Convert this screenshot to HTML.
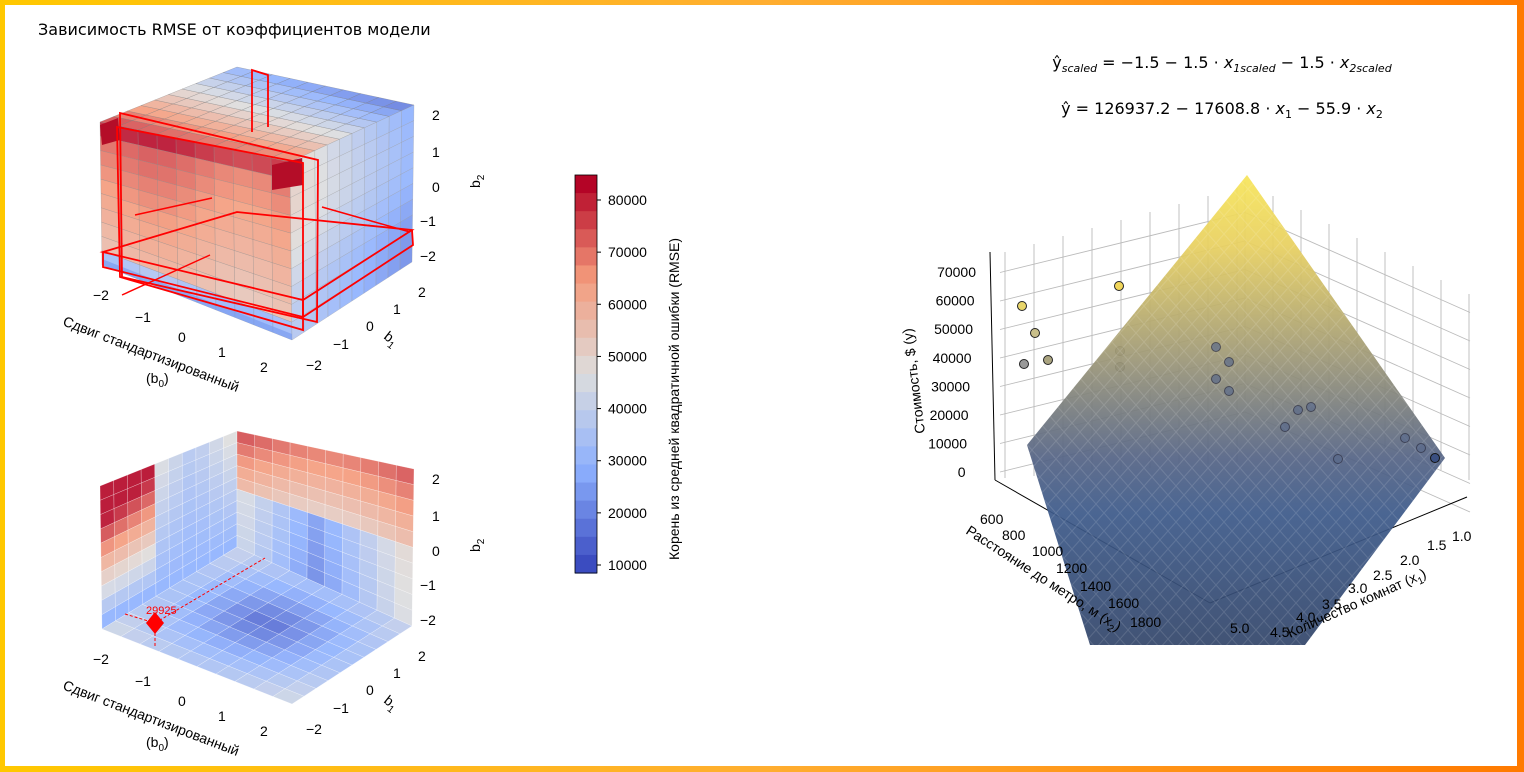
<!DOCTYPE html>
<html><head><meta charset="utf-8"><style>
html,body{margin:0;padding:0;}
body{width:1524px;height:772px;position:relative;overflow:hidden;background:linear-gradient(90deg,#ffc800,#ffae30 50%,#ff7a00);}
#in{position:absolute;left:5px;top:5px;width:1512px;height:761px;background:#fff;}
svg{position:absolute;left:0;top:0;}
text{font-family:"Liberation Sans","DejaVu Sans",sans-serif;font-size:14px;fill:#000;}
</style></head><body><div id="in"></div>
<svg id="s" width="1524" height="772" viewBox="0 0 1524 772"></svg>
<script>
const S=document.getElementById('s');let h='';
const ST=[[0,[59,76,192]],[0.25,[141,176,254]],[0.5,[221,221,221]],[0.75,[244,154,123]],[1,[180,4,38]]];
function cw(t){t=Math.max(0,Math.min(1,t));let i=0;while(i<3&&t>ST[i+1][0])i++;const[a0,a]=ST[i],[b0,b]=ST[i+1];const k=(t-a0)/(b0-a0);
return `rgb(${a.map((x,j)=>Math.round(x+(b[j]-x)*k)).join(',')})`}
function bl(P,u,v){const[a,b,c,d]=P;return[(a[0]*(1-u)+b[0]*u)*(1-v)+(d[0]*(1-u)+c[0]*u)*v,(a[1]*(1-u)+b[1]*u)*(1-v)+(d[1]*(1-u)+c[1]*u)*v]}
function face(P,f,n,op,st){for(let i=0;i<n;i++)for(let j=0;j<n;j++){const q=[bl(P,i/n,j/n),bl(P,(i+1)/n,j/n),bl(P,(i+1)/n,(j+1)/n),bl(P,i/n,(j+1)/n)];
h+=`<polygon points="${q.map(p=>p.join(',')).join(' ')}" fill="${cw(f(i/(n-1),j/(n-1)))}" fill-opacity="${op}" stroke="${st}" stroke-width="0.5" stroke-opacity="0.5"/>`}}
const TL=[100,122],TB=[237,67],TR=[414,105],TF=[290,162],BL=[102,265],BF=[292,340],BR=[412,262];
face([TL,TB,TR,TF],(u,v)=>0.78-0.6*u+0.1*(1-v)-0.05*v*u,10,0.9,'#777');
face([TL,TF,BF,BL],(u,v)=>(v<0.1?0.95:0.86-0.25*v)+(v>0.95?-0.3:0)+0.04*Math.sin(u*6),10,0.9,'#888');
face([TF,TR,BR,BF],(u,v)=>0.45-0.2*u-0.05*v+0.1*(1-u)*(1-v)+0.04*Math.sin(v*5),10,0.9,'#999');
h+=`<polygon points="100,125 118,118 120,140 102,145" fill="#b40d28"/><polygon points="272,165 302,158 303,185 272,190" fill="#b40d28"/>`;
h+=`<polygon points="102,265 292,340 292,334 102,259" fill="#7b9cf0" fill-opacity="0.7"/>`;
const R='stroke="#f00" stroke-width="1.8" fill="none"';
h+=`<polygon points="120,113 318,160 317,322 122,277" ${R}/><polygon points="117,127 303,163 303,330 120,277" ${R}/>
<polygon points="103,252 237,212 412,230 303,300" ${R}/><polyline points="103,252 103,267 303,317 413,245 412,230" ${R}/><line x1="303" y1="300" x2="303" y2="317" stroke="#f00" stroke-width="1.8"/>
<polyline points="252,132 252,70 268,75 268,127" ${R}/><line x1="122" y1="295" x2="210" y2="255" stroke="#f00" stroke-width="1.5"/><line x1="135" y1="215" x2="212" y2="198" stroke="#f00" stroke-width="1.5"/><line x1="322" y1="207" x2="410" y2="232" stroke="#f00" stroke-width="1.5"/>`;
const o=364,tl=[100,122+o],tb=[237,67+o],tr=[414,105+o],bb=[237,183+o],bl_=[102,265+o],bf=[292,340+o],br=[412,262+o];
face([tl,tb,bb,bl_],(u,v)=>{let x=Math.abs(u-0.7);return 0.25+x*0.5*(1-v)+0.5*(1-v)*(u<.35?1:0)+0.1*(1-v)},10,0.9,'#fff');
face([tb,tr,br,bb],(u,v)=>{return v<0.45?0.88-0.5*v-0.08*Math.sin(u*3):0.15+Math.abs(u-0.45)*0.6+0.1*(1-v)},10,0.9,'#fff');
face([bl_,bb,br,bf],(u,v)=>0.06+0.5*Math.hypot(u-0.55,v-0.5),10,0.9,'#fff');
h+=`<line x1="155" y1="623" x2="265" y2="558" stroke="#f00" stroke-dasharray="3,2"/><line x1="125" y1="614" x2="155" y2="623" stroke="#f00" stroke-dasharray="3,2"/><line x1="155" y1="623" x2="155" y2="648" stroke="#f00" stroke-dasharray="3,2"/>
<polygon points="155,612 164,623 155,634 146,623" fill="#f00"/><text x="146" y="614" style="font-size:11px;fill:#f00">29925</text>`;
function lab(dy){[['−2',93,300],['−1',135,322],['0',178,342],['1',218,357],['2',260,372]].forEach(a=>h+=`<text x="${a[1]}" y="${a[2]+dy}">${a[0]}</text>`);
[['2',418,297],['1',393,314],['0',366,331],['−1',333,349],['−2',306,370]].forEach(a=>h+=`<text x="${a[1]}" y="${a[2]+dy}">${a[0]}</text>`);
[['2',120],['1',157],['0',192],['−1',226],['−2',261]].forEach(a=>h+=`<text x="${a[0].length>1?420:432}" y="${a[1]+dy}">${a[0]}</text>`);
h+=`<text transform="translate(480,${188+dy}) rotate(-90)">b<tspan dy="4" style="font-size:10px">2</tspan></text>`;
h+=`<text transform="translate(383,${338+dy}) rotate(38)">b<tspan dy="4" style="font-size:10px">1</tspan></text>`;
h+=`<text transform="translate(62,${325+dy}) rotate(21)">Сдвиг стандартизированный</text><text x="146" y="${383+dy}">(b<tspan dy="4" style="font-size:10px">0</tspan><tspan dy="-4">)</tspan></text>`}
lab(0);lab(364);
for(let i=0;i<22;i++){const y=175+i*398/22;h+=`<rect x="575" y="${y}" width="22" height="${398/22+0.6}" fill="${cw(1-i/21)}"/>`}
h+=`<rect x="575" y="175" width="22" height="398" fill="none" stroke="#000" stroke-width="0.8"/>`;
for(let k=1;k<=8;k++){const y=565-(k-1)*(365/7);h+=`<line x1="597" y1="${y}" x2="601" y2="${y}" stroke="#000"/><text x="608" y="${y+5}">${k*10000}</text>`}
h+=`<text transform="translate(679,560) rotate(-90)">Корень из средней квадратичной ошибки (RMSE)</text>`;
h+=`<text x="38" y="35" style="font-family:'Comic Sans MS','DejaVu Sans',sans-serif;font-size:16px">Зависимость RMSE от коэффициентов модели</text>`;
h+=`<text x="1222" y="68" text-anchor="middle" style="font-size:16px;font-family:'DejaVu Sans',sans-serif">ŷ<tspan dy="4" style="font-size:11px;font-style:italic">scaled</tspan><tspan dy="-4"> = −1.5 − 1.5 · </tspan><tspan style="font-style:italic">x</tspan><tspan dy="4" style="font-size:11px;font-style:italic">1scaled</tspan><tspan dy="-4"> − 1.5 · </tspan><tspan style="font-style:italic">x</tspan><tspan dy="4" style="font-size:11px;font-style:italic">2scaled</tspan></text>`;
h+=`<text x="1222" y="114" text-anchor="middle" style="font-size:16px;font-family:'DejaVu Sans',sans-serif">ŷ = 126937.2 − 17608.8 · <tspan font-style="italic">x</tspan><tspan dy="4" style="font-size:11px">1</tspan><tspan dy="-4"> − 55.9 · </tspan><tspan font-style="italic">x</tspan><tspan dy="4" style="font-size:11px">2</tspan></text>`;
let g='stroke="#bbb" stroke-width="0.9"';
for(let i=0;i<9;i++){const x=1005+i*29;h+=`<line x1="${x}" y1="${252-i*8}" x2="${x}" y2="${478-i*2}" ${g}/>`}
for(let i=0;i<9;i++){const x=1245+i*28;h+=`<line x1="${x}" y1="${182+i*14}" x2="${x}" y2="${400+i*10}" ${g}/>`}
for(let k=0;k<8;k++){const y=472-k*28.5;h+=`<polyline points="1000,${y} 1245,${y-60} 1470,${y+40}" fill="none" ${g}/>`}
h+=`<line x1="990" y1="252" x2="995" y2="480" stroke="#000"/><line x1="995" y1="480" x2="1210" y2="603" stroke="#000"/><line x1="1210" y1="603" x2="1467" y2="497" stroke="#000"/>`;
h+=`<defs><linearGradient id="sg" x1="0" y1="0" x2="0" y2="1"><stop offset="0" stop-color="#f7e55a"/><stop offset="0.15" stop-color="#e8d060"/><stop offset="0.4" stop-color="#9a9578"/><stop offset="0.6" stop-color="#556485"/><stop offset="0.72" stop-color="#3d5a8a"/><stop offset="1" stop-color="#33466a"/></linearGradient>
<pattern id="dp" width="16" height="18" patternUnits="userSpaceOnUse"><path d="M0 9 L8 0 L16 9 L8 18 Z" fill="none" stroke="#fff" stroke-opacity="0.12"/></pattern></defs>`;
const pts=[[1022,306,'#e9d66a'],[1035,333,'#c9bf8a'],[1048,360,'#aaa480'],[1024,364,'#999'],[1119,286,'#f1d65a'],[1120,351,'#999'],[1120,367,'#8d8f88']];
pts.forEach(p=>h+=`<circle cx="${p[0]}" cy="${p[1]}" r="4.5" fill="${p[2]}" stroke="#222" stroke-width="1"/>`);
h+=`<polygon points="1247,175 1445,458 1305,645 1090,645 1027,445" fill="url(#sg)" fill-opacity="0.93"/><polygon points="1247,175 1445,458 1305,645 1090,645 1027,445" fill="url(#dp)"/>`;
[[1216,347],[1229,362],[1216,379],[1229,391],[1298,410],[1311,407],[1285,427],[1338,459],[1405,438],[1421,448]].forEach(p=>h+=`<circle cx="${p[0]}" cy="${p[1]}" r="4.5" fill="#5a6a8a" fill-opacity="0.7" stroke="#223" stroke-opacity="0.6"/>`);
h+=`<circle cx="1435" cy="458" r="4.5" fill="#3a4f80" stroke="#111"/>`;
[70000,60000,50000,40000,30000,20000,10000,0].forEach((v,k)=>{const y=272+k*28.6;h+=`<text x="${976-k*1.5}" y="${y+5}" text-anchor="end">${v}</text>`});
h+=`<text transform="translate(925,433) rotate(-97)">Стоимость, $ (y)</text>`;
[['600',1000,524],['800',1022,540],['1000',1052,556],['1200',1076,573],['1400',1100,591],['1600',1128,608],['1800',1150,627]].forEach(a=>h+=`<text x="${a[1]-20}" y="${a[2]}">${a[0]}</text>`);
h+=`<text transform="translate(965,533) rotate(33)">Расстояние до метро, м (x<tspan dy="4" style="font-size:10px">2</tspan><tspan dy="-4">)</tspan></text>`;
[['1.0',1452,541],['1.5',1427,550],['2.0',1400,565],['2.5',1373,580],['3.0',1348,593],['3.5',1322,609],['4.0',1296,622],['4.5',1270,637],['5.0',1230,633]].forEach(a=>h+=`<text x="${a[1]}" y="${a[2]}">${a[0]}</text>`);
h+=`<text transform="translate(1290,638) rotate(-24)">Количество комнат (x<tspan dy="4" style="font-size:10px">1</tspan><tspan dy="-4">)</tspan></text>`;
S.innerHTML=h;
</script></body></html>
